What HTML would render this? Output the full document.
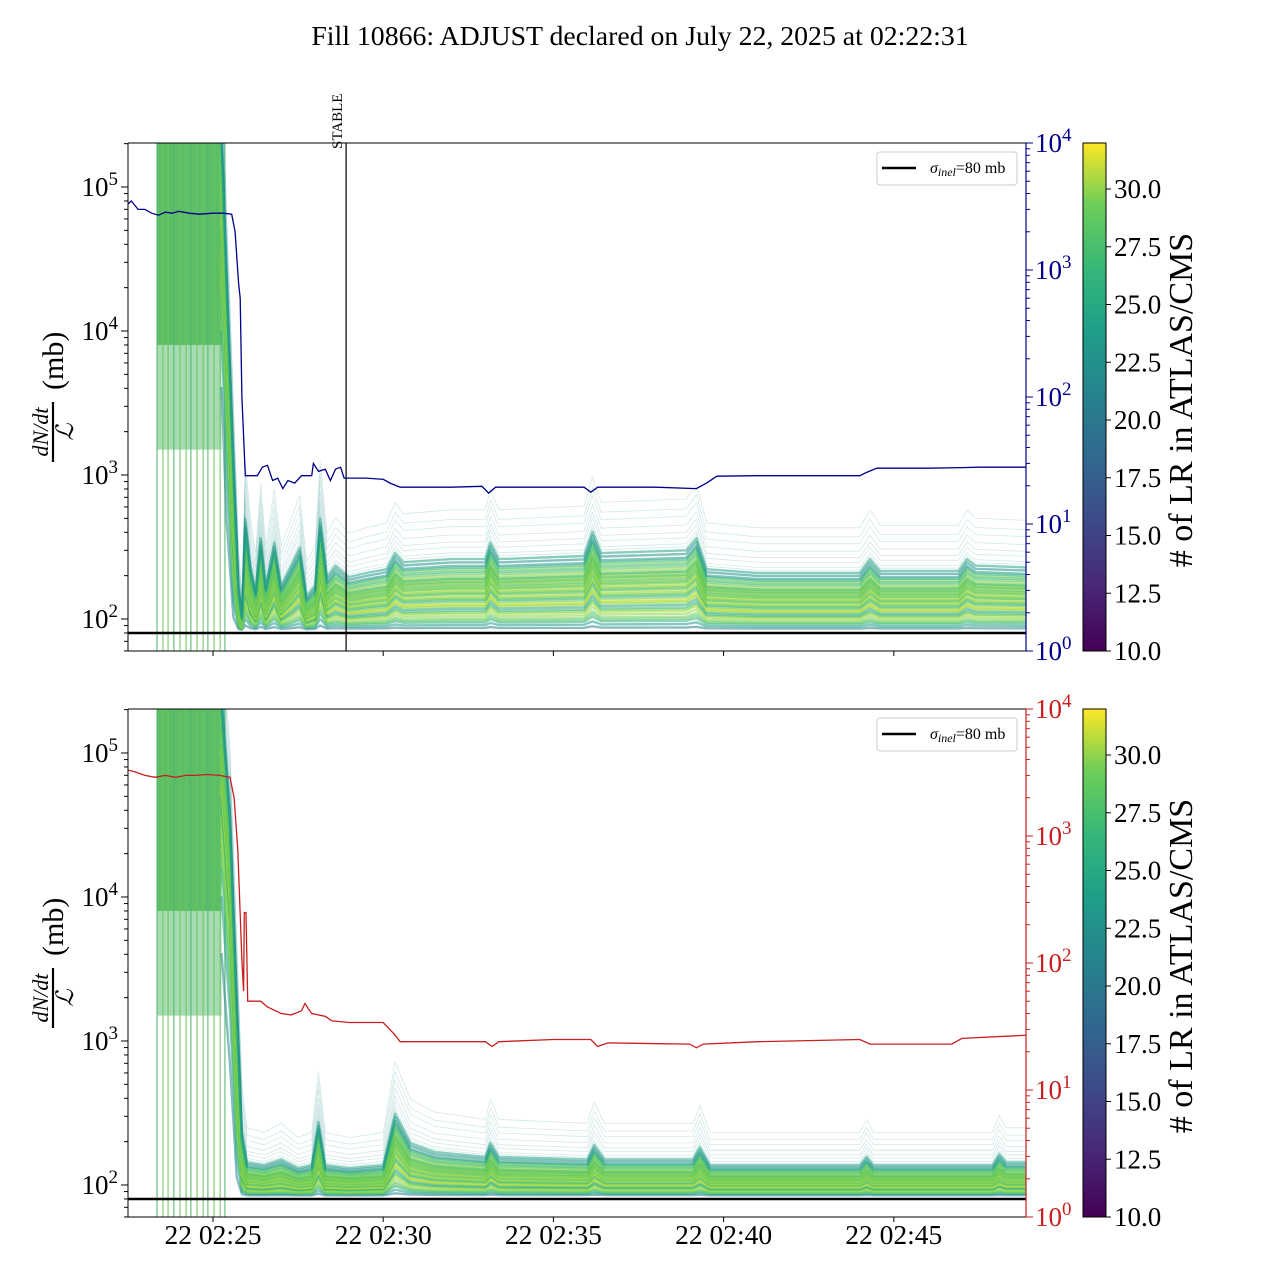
<!DOCTYPE html>
<html><head><meta charset="utf-8"><style>
html,body{margin:0;padding:0;background:#fff}
svg{display:block;font-family:"Liberation Serif","DejaVu Serif",serif}
</style></head><body>
<svg id="chart" width="1280" height="1280" viewBox="0 0 1280 1280" xmlns="http://www.w3.org/2000/svg">
<defs>
<linearGradient id="vir" x1="0" y1="1" x2="0" y2="0">
<stop offset="0" stop-color="#440154"/><stop offset="0.13" stop-color="#482878"/><stop offset="0.25" stop-color="#3e4989"/><stop offset="0.38" stop-color="#31688e"/><stop offset="0.5" stop-color="#26828e"/><stop offset="0.63" stop-color="#1f9e89"/><stop offset="0.75" stop-color="#35b779"/><stop offset="0.88" stop-color="#6ece58"/><stop offset="1" stop-color="#fde725"/>
</linearGradient>
<clipPath id="clipTop"><rect x="128" y="143" width="898" height="508"/></clipPath>
<clipPath id="clipBot"><rect x="128" y="709" width="898" height="508"/></clipPath>
</defs>
<text x="640" y="45" text-anchor="middle" font-size="27.8">Fill 10866: ADJUST declared on July 22, 2025 at 02:22:31</text>
<g id="panels"></g>
</svg>
<script>
// ---- data ----
const xTickLabels = ["22 02:25","22 02:30","22 02:35","22 02:40","22 02:45"];
const xTickMinutes = [5,10,15,20,25];           // minutes after 02:20
const leftTickExps = [2,3,4,5];
const rightTickExps = [0,1,2,3,4];
const cbarTicks = [10.0,12.5,15.0,17.5,20.0,22.5,25.0,27.5,30.0];
const stableMinute = 8.91;
const sigmaInel = 80;
const startLines = [3.355,3.53,3.68,3.85,4.03,4.21,4.35,4.53,4.71,4.85,5.03,5.21,5.35];
// top panel median trace profile
const topTimes  = [5.25,5.4,5.6,5.75,5.85,5.95,6.1,6.25,6.4,6.55,6.8,7.0,7.3,7.55,7.75,8.0,8.15,8.35,8.6,9.0,9.5,10.1,10.35,10.6,12,13.0,13.15,13.4,15.9,16.15,16.4,18.9,19.2,19.5,21,24.0,24.3,24.6,26.9,27.15,27.4,28.9];
const topMedian = [200000,20000,1000,150,100,400,200,140,300,150,280,150,200,260,130,150,400,170,200,170,180,190,240,210,220,220,280,220,230,330,240,250,300,190,180,180,220,185,185,220,200,195];
// bottom panel median trace profile
const botTimes  = [5.25,5.5,5.7,5.85,6.0,6.5,7.0,7.5,7.9,8.1,8.3,9,10.0,10.35,10.8,11.5,13.0,13.15,13.4,16.0,16.2,16.5,19.1,19.3,19.6,24,24.2,24.4,27.9,28.1,28.3,28.9];
const botMedian = [200000,30000,1500,200,130,125,135,120,125,230,125,120,125,260,170,150,140,170,140,135,165,135,135,160,125,125,140,125,125,145,130,130];
// per-trace spread multipliers and LR counts
const spreads = [0.02,0.05,0.08,0.1,0.12,0.15,0.18,0.2,0.22,0.25,0.28,0.3,0.32,0.35,0.38,0.4,0.42,0.45,0.48,0.5,0.52,0.55,0.58,0.6,0.62,0.65,0.68,0.7,0.72,0.75,0.78,0.8,0.85,0.9,0.95,1.0,1.05,1.1,1.2,1.3,1.4,1.5,1.7,1.9,2.2,2.6,3.0,3.6];
const lrCounts = [20,22,24,26,27,28,29,27,25,23,28,29,30,26,24,27,28,29,25,27,28,29,26,27,28,25,29,27,26,28,24,27,28,26,25,27,24,22,21,23,20,22,21,19,20,22,21,20];
// luminosity-like curves (right axis)
const blueTimes = [2.5,2.6,2.8,3.0,3.2,3.4,3.6,3.8,4.0,4.3,4.6,5.0,5.3,5.55,5.65,5.75,5.8,5.85,5.95,6.3,6.45,6.6,6.75,6.9,7.05,7.2,7.4,7.6,7.9,7.95,8.1,8.3,8.45,8.6,8.75,8.85,9.5,10.0,10.2,10.5,11,12,12.9,13.1,13.3,14,15.9,16.1,16.3,18,19.2,19.5,19.8,21,22,24.0,24.2,24.5,26,27,27.5,28.9];
const blueVals  = [3300,3500,3000,3000,2800,2700,2850,2800,2900,2800,2750,2800,2800,2750,2000,800,600,100,24,24,28,29,22,23,19,22,21,24,24,30,26,27,22,27,28,23,23,22.5,21,19.5,19.5,19.5,19.8,17.5,19.5,19.5,19.5,17.8,19.5,19.5,19,21,23.8,24,24,24,25.5,27.5,27.5,27.8,28,28];
const redTimes = [2.5,2.7,3.0,3.3,3.6,3.9,4.2,4.5,4.8,5.2,5.5,5.62,5.73,5.85,5.9,5.92,5.97,6.02,6.1,6.4,6.6,7.0,7.3,7.6,7.7,7.9,8.3,8.5,9,10.0,10.3,10.5,12,13.0,13.2,13.4,15,16.1,16.3,16.6,19.0,19.2,19.4,21,24,24.3,26.7,27,28.9];
const redVals  = [3300,3200,3000,2900,3000,2900,3000,3000,3050,3000,2900,2000,780,105,60,250,250,50,50,50,45,40,39,42,48,40,38,35,34,34,28,24,24,24,22,24,25,25,22,23.5,23,21.5,23,24,25,23,23,25.5,27];

// ---- scales ----
const X0=128,X1=1026;
function xs(m){return 213+(m-5)*34.04;}
function yL(v,top){const base=top?619:1185;return base-(Math.log10(v)-2)*144;}
function yR(v,top){const base=top?651:1217;return base-Math.log10(v)*127;}
const viridis=[[68,1,84],[72,40,120],[62,73,137],[49,104,142],[38,130,142],[31,158,137],[53,183,121],[110,206,88],[181,222,43],[253,231,37]];
function vcol(lr){let t=(lr-10)/22;t=Math.max(0,Math.min(1,t))*9;const i=Math.min(8,Math.floor(t)),f=t-i;const a=viridis[i],b=viridis[i+1];
return `rgb(${Math.round(a[0]+(b[0]-a[0])*f)},${Math.round(a[1]+(b[1]-a[1])*f)},${Math.round(a[2]+(b[2]-a[2])*f)})`;}
const NS="http://www.w3.org/2000/svg";
const root=document.getElementById('panels');
function el(tag,attrs,parent,txt){const e=document.createElementNS(NS,tag);for(const k in attrs)e.setAttribute(k,attrs[k]);if(txt!==undefined)e.textContent=txt;(parent||root).appendChild(e);return e;}

function drawPanel(top){
  const yT=top?143:709,yB=yT+508;
  const g=el('g',{});
  
  
  const plot=el('g',{'clip-path':top?'url(#clipTop)':'url(#clipBot)'},g);
  
  
  const bx=xs(startLines[0]), bw=xs(5.25)-xs(startLines[0]);
  const band=el('rect',{x:bx,y:yT,width:bw,height:yL(8000,top)-yT,fill:'#62c25e',opacity:0.95},plot);
  
  
  const band2=el('rect',{x:bx,y:yT,width:bw,height:yL(1500,top)-yT,fill:'#4fb86a',opacity:0.5},plot);
  
  
  startLines.forEach((m,i)=>{const l=el('line',{x1:xs(m),x2:xs(m),y1:yT,y2:yB,stroke:i%3?'#6cc85a':'#4fb86a','stroke-width':1.2,opacity:0.85},plot);
    
    });
  const times=top?topTimes:botTimes, med=top?topMedian:botMedian;
  spreads.forEach((s,i)=>{
    const pts=times.map((t,j)=>{const v=84+(med[j]-84)*s;return xs(t).toFixed(1)+','+yL(Math.max(v,82),top).toFixed(1);});
    const faint = s>1.3;
    const p=el('polyline',{points:pts.join(' '),fill:'none',stroke:vcol(lrCounts[i]),'stroke-width':faint?0.8:2.4,'stroke-linejoin':'round',opacity:faint?0.2:0.55},plot);
    
    
  });
  const sl=el('line',{x1:X0,x2:X1,y1:yL(sigmaInel,top),y2:yL(sigmaInel,top),stroke:'#000','stroke-width':2.5},plot);
  
  
  const rt=top?blueTimes:redTimes, rv=top?blueVals:redVals, rc=top?'#00008b':'#c81e1e';
  const rp=el('polyline',{points:rt.map((t,j)=>xs(t).toFixed(1)+','+yR(rv[j],top).toFixed(1)).join(' '),fill:'none',stroke:rc,'stroke-width':1.3},plot);
  
  
  if(top){
    const st=el('line',{x1:xs(stableMinute),x2:xs(stableMinute),y1:yT,y2:yB,stroke:'#000','stroke-width':1.2},g);
    
    
    const stt=el('text',{x:0,y:0,'font-size':15,transform:`translate(${xs(stableMinute)-4},149) rotate(-90)`},g,'STABLE');
    
    
  }
  el('line',{x1:X0,x2:X1,y1:yT,y2:yT,stroke:'#000','stroke-width':1},g);
  el('line',{x1:X0,x2:X1,y1:yB,y2:yB,stroke:'#000','stroke-width':1},g);
  el('line',{x1:X0,x2:X0,y1:yT,y2:yB,stroke:'#000','stroke-width':1},g);
  el('line',{x1:X1,x2:X1,y1:yT,y2:yB,stroke:rc,'stroke-width':1.2},g);
  xTickMinutes.forEach((m,i)=>{el('line',{x1:xs(m),x2:xs(m),y1:yB,y2:yB+5,stroke:'#000'},g);
    if(!top){const t=el('text',{x:xs(m),y:yB+27,'text-anchor':'middle','font-size':27.5},g,xTickLabels[i]);
      
      }});
  for(let e=1;e<=5;e++)for(let k=1;k<10;k++){const v=k*Math.pow(10,e),y=yL(v,top);if(y<yT-0.5||y>yB+0.5)continue;
    el('line',{x1:X0-(k===1?7:4),x2:X0,y1:y,y2:y,stroke:'#000'},g);}
  leftTickExps.forEach(e=>{const t=el('text',{x:X0-10,y:yL(Math.pow(10,e),top)+9,'text-anchor':'end','font-size':27},g);
    
    
    el('tspan',{},t,'10');el('tspan',{dy:-11,'font-size':19},t,String(e));});
  for(let e=0;e<4;e++)for(let k=1;k<10;k++){const y=yR(k*Math.pow(10,e),top);
    el('line',{x1:X1,x2:X1+(k===1?7:4),y1:y,y2:y,stroke:rc},g);}
  el('line',{x1:X1,x2:X1+7,y1:yT,y2:yT,stroke:rc},g);
  rightTickExps.forEach(e=>{const t=el('text',{x:X1+9,y:yR(Math.pow(10,e),top)+9,'font-size':27,fill:rc},g);
    
    
    el('tspan',{},t,'10');el('tspan',{dy:-11,'font-size':19},t,String(e));});
  const cy=yT+257;
  const yl=el('g',{transform:`translate(53,${cy}) rotate(-90)`},g);
  
  
  el('text',{x:-32,y:-5,'text-anchor':'middle','font-size':22,'font-style':'italic'},yl,'dN/dt');
  el('line',{x1:-62,x2:-2,y1:0,y2:0,stroke:'#000','stroke-width':2.2},yl);
  el('text',{x:-32,y:20,'text-anchor':'middle','font-size':24,'font-style':'italic'},yl,'ℒ');
  el('text',{x:10,y:10,'font-size':30},yl,'(mb)');
  const lg=el('g',{},g);
  
  
  el('rect',{x:877,y:yT+9,width:140,height:33,rx:3,fill:'#fff',stroke:'#ccc'},lg);
  el('line',{x1:882,x2:916,y1:yT+25,y2:yT+25,stroke:'#000','stroke-width':2.5},lg);
  const lt=el('text',{x:930,y:yT+30,'font-size':16},lg);
  
  
  el('tspan',{'font-style':'italic'},lt,'σ');el('tspan',{'font-style':'italic','font-size':12,dy:3},lt,'inel');el('tspan',{dy:-3},lt,'=80 mb');
  const cb=el('g',{},g);
  
  
  el('rect',{x:1083,y:yT,width:23,height:508,fill:'url(#vir)',stroke:'#000','stroke-width':1},cb);
  cbarTicks.forEach(v=>{const y=yB-(v-10)*23.1;el('line',{x1:1106,x2:1111,y1:y,y2:y,stroke:'#000'},cb);
    const t=el('text',{x:1114,y:y+9,'font-size':27},cb,v.toFixed(1));
    
    });
  const ct=el('text',{x:0,y:0,'text-anchor':'middle','font-size':34,transform:`translate(1192,${cy}) rotate(-90)`},cb,'# of LR in ATLAS/CMS');
  
  
}
drawPanel(true);
drawPanel(false);
</script>
</body></html>
